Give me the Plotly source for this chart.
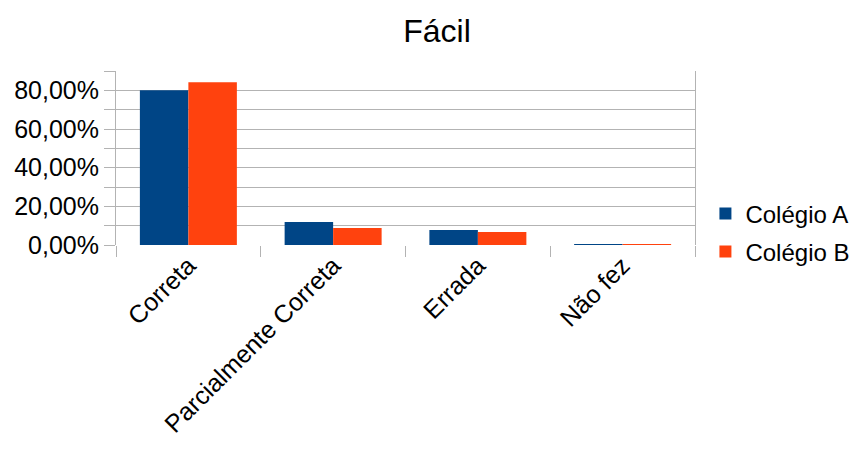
import plotly.graph_objects as go

# Answer categories and the share of students per school
categorias = ["Correta", "Parcialmente Correta", "Errada", "Não fez"]
colegio_a = [0.800, 0.119, 0.078, 0.003]
colegio_b = [0.842, 0.088, 0.067, 0.003]

# Y axis grid every 10 %, labels every 20 %
y_ticks = [i / 10 for i in range(10)]
y_labels = [
    (f"{v * 100:.2f}".replace(".", ",") + "%") if round(v * 10) % 2 == 0 else ""
    for v in y_ticks
]

FONT = "Liberation Sans, Arial, sans-serif"
GRID = "#b3b3b3"

fig = go.Figure()
fig.add_trace(go.Bar(x=categorias, y=colegio_a, name="Colégio A",
                     marker=dict(color="#004586", line=dict(width=0)),
                     legendgroup="a"))
fig.add_trace(go.Bar(x=categorias, y=colegio_b, name="Colégio B",
                     marker=dict(color="#ff420e", line=dict(width=0)),
                     legendgroup="b"))

fig.update_layout(
    width=859, height=450,
    margin=dict(l=116, r=164, t=71, b=205, autoexpand=False),
    paper_bgcolor="white", plot_bgcolor="white",
    font=dict(family=FONT, size=24, color="#000000"),
    title=dict(text="Fácil", x=437 / 859, xref="container", xanchor="center",
               y=1 - 31 / 450, yref="container", yanchor="middle",
               font=dict(size=32)),
    barmode="group", bargap=0.33, bargroupgap=0,
    showlegend=True,
    legend=dict(x=1.018, xanchor="left", y=0.07, yanchor="middle",
                font=dict(size=24), traceorder="grouped", tracegroupgap=4,
                bgcolor="rgba(0,0,0,0)"),
)

fig.update_xaxes(
    type="category", tickangle=-45, tickson="boundaries",
    ticks="outside", ticklen=11, tickcolor=GRID, tickwidth=1,
    showgrid=False, showline=False, zeroline=False,
    tickfont=dict(size=25),
)
fig.update_yaxes(
    range=[0, 0.9], tickvals=y_ticks, ticktext=y_labels,
    ticks="outside", ticklen=11, tickcolor=GRID, tickwidth=1,
    showgrid=True, gridcolor=GRID, gridwidth=1,
    showline=True, linecolor=GRID, linewidth=1, mirror=True,
    zeroline=False, tickfont=dict(size=25),
)

fig.write_html("out.html")
